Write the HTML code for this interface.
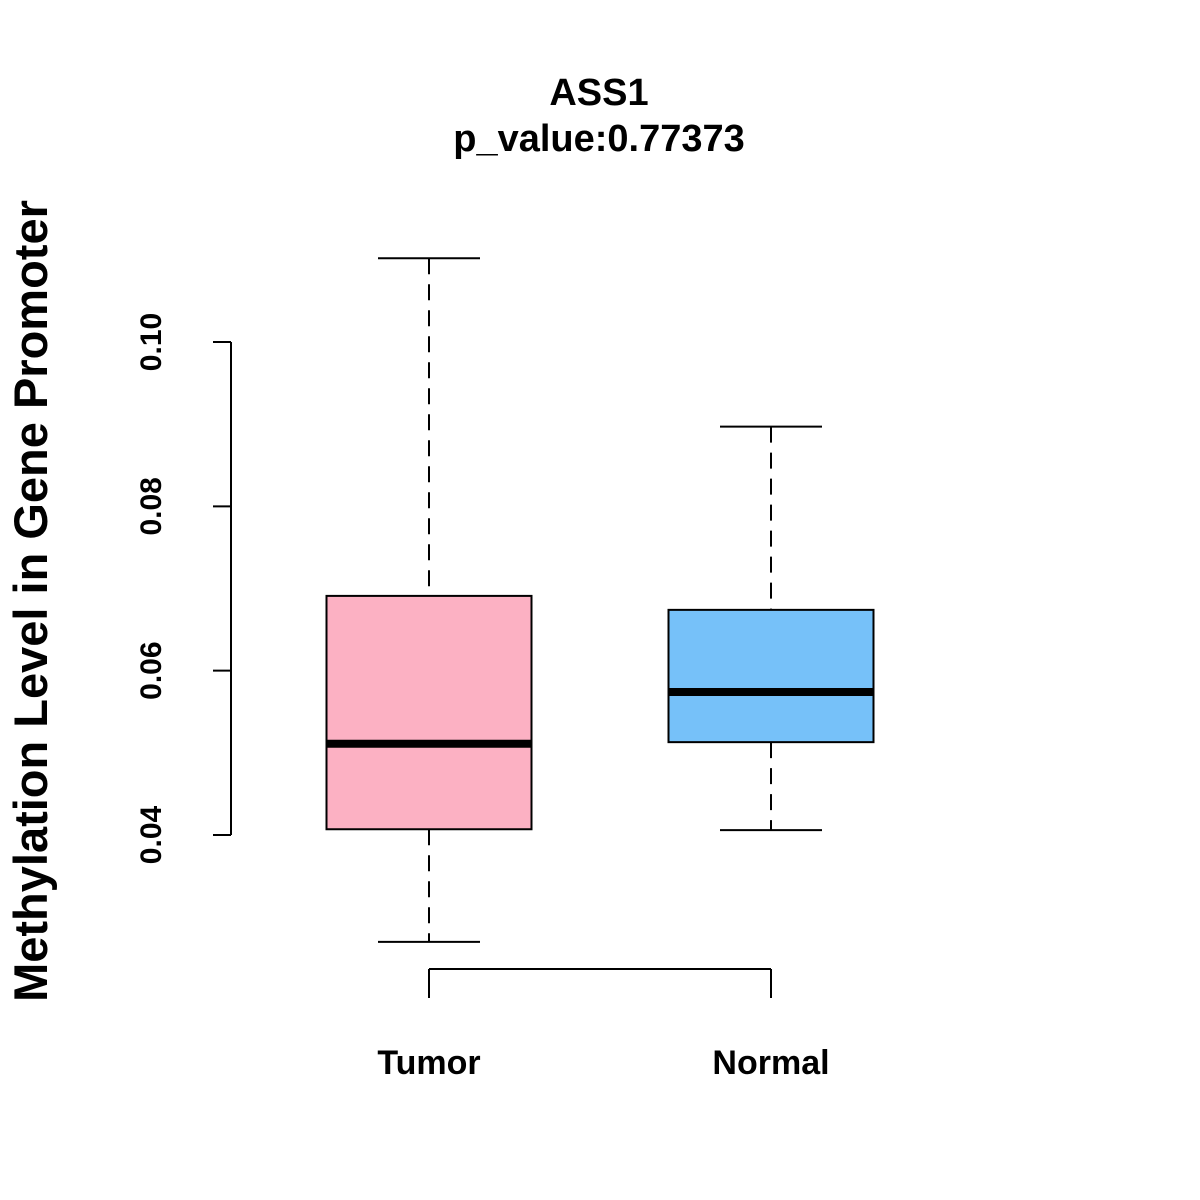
<!DOCTYPE html>
<html><head><meta charset="utf-8"><style>
body{margin:0;background:#fff}
svg{display:block;font-family:"Liberation Sans",Arial,sans-serif;font-weight:bold}
</style></head><body>
<svg id="chart" width="1200" height="1200" viewBox="0 0 1200 1200">
<text x="599" y="105" font-size="38" text-anchor="middle">ASS1</text>
<text x="599" y="151" font-size="38" text-anchor="middle">p_value:0.77373</text>
<text transform="translate(47,601) rotate(-90)" font-size="47" text-anchor="middle">Methylation Level in Gene Promoter</text>
<g id="plot"></g>
</svg>
<script>
const categories = ["Tumor", "Normal"];
const mins = [0.0270, 0.0406];
const q1s = [0.0407, 0.0513];
const medians = [0.0511, 0.0574];
const q3s = [0.0691, 0.0674];
const maxs = [0.1102, 0.0897];
const colors = ["#FCB1C3", "#76C1F9"];
const yTicks = [0.04, 0.06, 0.08, 0.10];
const yTickLabels = ["0.04", "0.06", "0.08", "0.10"];

const NS = "http://www.w3.org/2000/svg";
const g = document.getElementById("plot");
const y = v => 342 + (0.10 - v) * (835 - 342) / 0.06;
const x = i => 429 + i * 342;
function mk(tag, attrs, parent) {
  const e = document.createElementNS(NS, tag);
  for (const k in attrs) e.setAttribute(k, attrs[k]);
  (parent || g).appendChild(e);
  return e;
}
let ax = mk("line", {x1: 231, x2: 231, y1: y(yTicks[yTicks.length-1]), y2: y(yTicks[0]), stroke: "#000", "stroke-width": 2});


yTicks.forEach((t, i) => {
  const tk = mk("line", {x1: 213, x2: 231, y1: y(t), y2: y(t), stroke: "#000", "stroke-width": 2});
  
  
  const lb = mk("text", {transform: `translate(161,${y(t)}) rotate(-90)`, "font-size": 30, "text-anchor": "middle"});
  lb.textContent = yTickLabels[i];
  
  
});
let xa = mk("line", {x1: x(0), x2: x(categories.length-1), y1: 969, y2: 969, stroke: "#000", "stroke-width": 2});


categories.forEach((c, i) => {
  const tk = mk("line", {x1: x(i), x2: x(i), y1: 969, y2: 998, stroke: "#000", "stroke-width": 2});
  
  
  const lb = mk("text", {x: x(i), y: 1074, "font-size": 34, "text-anchor": "middle"});
  lb.textContent = c;
  
  
  const bg = mk("g", {});
  
  
  const cx = x(i);
  mk("line", {x1: cx, x2: cx, y1: y(maxs[i]), y2: y(q3s[i]), stroke: "#000", "stroke-width": 2, "stroke-dasharray": "16,10"}, bg);
  mk("line", {x1: cx, x2: cx, y1: y(q1s[i]), y2: y(mins[i]), stroke: "#000", "stroke-width": 2, "stroke-dasharray": "16,10"}, bg);
  mk("line", {x1: cx-51, x2: cx+51, y1: y(maxs[i]), y2: y(maxs[i]), stroke: "#000", "stroke-width": 2}, bg);
  mk("line", {x1: cx-51, x2: cx+51, y1: y(mins[i]), y2: y(mins[i]), stroke: "#000", "stroke-width": 2}, bg);
  mk("rect", {x: cx-102.5, y: y(q3s[i]), width: 205, height: y(q1s[i]) - y(q3s[i]), fill: colors[i], stroke: "#000", "stroke-width": 2}, bg);
  mk("line", {x1: cx-102.5, x2: cx+102.5, y1: y(medians[i]), y2: y(medians[i]), stroke: "#000", "stroke-width": 8}, bg);
});
</script>
</body></html>
